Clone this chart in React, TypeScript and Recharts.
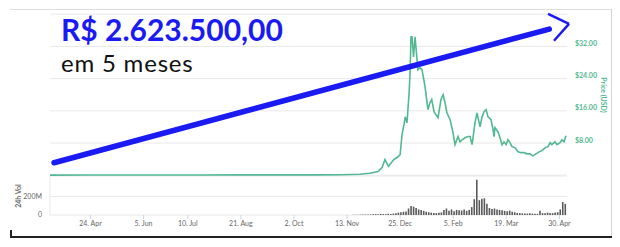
import { LineChart, Line, BarChart, Bar, XAxis, YAxis, CartesianGrid, ReferenceLine } from "recharts"

// x axis = days since 23 Mar 2017
const tickDays = [32, 74, 109, 151, 193, 235, 277, 319, 361, 403]
const tickLabels = ["24. Apr", "5. Jun", "10. Jul", "21. Aug", "2. Oct", "13. Nov", "25. Dec", "5. Feb", "19. Mar", "30. Apr"]

const priceDays = [
  0, 30, 60, 90, 120, 150, 180, 210, 230, 245, 253, 259.5, 262.7, 265, 267.7, 270, 272, 274.5, 277, 278.5,
  280, 281, 282.4, 284, 284.8, 285.6, 286.4, 287.6, 288.8, 290, 291, 292.7, 294.3, 296.7, 299, 300.6, 302,
  303.8, 305.4, 307, 309.3, 311, 312.5, 314, 316.5, 318.8, 320.4, 322.8, 324.4, 326, 328.3, 330.7, 332.3,
  333.9, 336.2, 337.8, 340.2, 341.8, 343.4, 345, 346.5, 348.9, 350.5, 351.3, 352, 354.4, 356, 357.6, 359.2,
  360.8, 362.3, 363.9, 365.5, 367.9, 370.3, 372.6, 375, 377.4, 379.7, 382, 384.5, 386.9, 389.2, 391.6, 394,
  395.6, 397, 399.5, 401, 403.5, 405, 406.6, 408.2,
]
const prices = [
  0.03, 0.04, 0.05, 0.06, 0.06, 0.07, 0.07, 0.08, 0.1, 0.25, 0.5, 0.9, 1.9, 3.9, 2.2, 3.1, 3.9, 4.4, 5.1, 10.1,
  12.5, 14.5, 13.0, 20, 25, 34.4, 34.4, 29.4, 34.4, 30, 26.2, 26.7, 26.2, 22, 16.3, 18, 18.8,
  15.8, 15, 14.3, 18.8, 20, 18, 15.5, 13.8, 10.6, 7.6, 9.6, 8.3, 8.8, 9.3, 9.6, 9.6,
  7.6, 13, 15.5, 12, 14.5, 15.8, 16.3, 14.5, 13.8, 11.3, 9.6, 11.8, 10.8, 9.3, 7.6, 8.3,
  7.6, 8.8, 8.1, 7.1, 6.8, 5.8, 5.6, 5.6, 5.3, 5.3, 4.8, 5.3, 5.8, 6.1, 6.8, 7.1,
  8.1, 7.6, 8.3, 7.6, 8.1, 8.8, 8.3, 9.8,
]

// 24h volume in millions, one bar every 2 days from day 240
const volumeStartDay = 240
const volumes = [
  3, 3, 4, 4, 5, 5, 6,
  6, 8, 10, 8, 12, 10, 9, 14, 12, 15, 20, 25,
  30, 35, 38,
  70, 97, 90,
  75, 60, 55, 45,
  35, 30, 25, 22, 20, 25, 28,
  55, 70,
  45, 60, 40, 55, 50, 48, 60, 45,
  55, 85, 170, 380, 160, 175, 180, 120,
  75, 65, 70, 60, 55,
  50, 45, 40, 48, 35, 30,
  22, 20, 18, 16, 15, 18, 15, 14, 12,
  45,
  20, 18, 25, 22, 20, 28, 30,
  60, 140, 120,
]

// hand-drawn overlay
const trendDays = [3.2, 395]
const trendValues = [3.1, 36.3]
const arrowDays = [394, 410.6, 398.7]
const arrowValues = [40.1, 37.6, 33.4]

const priceData = priceDays.map((day, i) => ({ day, price: prices[i] }))
const trendData = trendDays.map((day, i) => ({ day, trend: trendValues[i] }))
const volumeData = volumes.map((vol, i) => ({ day: volumeStartDay + i * 2, vol }))

const green = "#52b892"
const blue = "#1a1af2"
const font = "Lato, 'Open Sans', sans-serif"

const fmtPrice = (v: number) => (v === 0 ? "$0" : `$${v.toFixed(2)}`)

function PriceTick(props: any) {
  const { x, y, payload } = props
  if (payload.value === 40) return <g />
  return (
    <text x={x} y={y - 0.5} fill={green} fontSize={7} fontWeight={700} fontFamily={font}>
      {fmtPrice(payload.value)}
    </text>
  )
}

export default function App() {
  return (
    <div style={{ position: "absolute", left: 0, top: 0, width: 620, height: 247, background: "#fff", overflow: "hidden" }}>
      <div style={{ position: "absolute", left: 10, top: 9, width: 602, height: 1, background: "#dedede" }} />
      <div style={{ position: "absolute", left: 611, top: 9, width: 1, height: 228, background: "#d4d4d4" }} />
      <div style={{ position: "absolute", left: 10, top: 236, width: 602, height: 2, background: "#222" }} />
      <div style={{ position: "absolute", left: 10, top: 230, width: 1.5, height: 7, background: "#222" }} />

      <div style={{ position: "absolute", left: 0, top: 170 }}>
        <BarChart width={620} height={70} data={volumeData} margin={{ top: 6, right: 53, bottom: 0, left: 0 }}>
          <CartesianGrid vertical={false} stroke="#e8e8e8" />
          <XAxis
            type="number"
            dataKey="day"
            domain={[0, 409]}
            allowDataOverflow
            ticks={tickDays}
            interval={0}
            tickFormatter={(d: number) => tickLabels[tickDays.indexOf(d)] ?? ""}
            height={25}
            tickSize={4}
            tickMargin={2}
            axisLine={false}
            tickLine={{ stroke: "#ccd6eb" }}
            tick={{ fontSize: 7, fill: "#666", fontFamily: font }}
          />
          <YAxis
            domain={[0, 420]}
            ticks={[0, 200]}
            allowDataOverflow
            width={50}
            tickFormatter={(v: number) => (v === 0 ? "0" : `${v}M`)}
            axisLine={{ stroke: "#e6e9f5" }}
            tickLine={false}
            tickSize={6}
            tickMargin={2}
            tick={{ fontSize: 7, fill: "#666", fontFamily: font }}
          />
          <Bar dataKey="vol" fill="#5a5a5a" barSize={1.6} isAnimationActive={false} />
        </BarChart>
      </div>

      <div style={{ position: "absolute", left: 0, top: 0 }}>
        <LineChart width={620} height={180} margin={{ top: 14.2, right: 0, bottom: 4.8, left: 50 }}>
          <CartesianGrid vertical={false} stroke="#e8e8e8" />
          <XAxis type="number" dataKey="day" domain={[0, 409]} allowDataOverflow hide />
          <YAxis
            orientation="right"
            domain={[0, 40]}
            ticks={[0, 8, 16, 24, 32, 40]}
            width={53}
            axisLine={false}
            tickLine={false}
            tickSize={6}
            tickMargin={2}
            tick={<PriceTick />}
          />
          <Line data={priceData} dataKey="price" stroke={green} strokeWidth={1.6} dot={false} isAnimationActive={false} />
          <Line
            data={trendData}
            dataKey="trend"
            stroke={blue}
            strokeWidth={5.5}
            strokeLinecap="round"
            dot={false}
            isAnimationActive={false}
          />
          <ReferenceLine
            segment={[{ x: arrowDays[0], y: arrowValues[0] }, { x: arrowDays[1], y: arrowValues[1] }]}
            stroke={blue}
            strokeWidth={2.5}
            ifOverflow="visible"
          />
          <ReferenceLine
            segment={[{ x: arrowDays[1], y: arrowValues[1] }, { x: arrowDays[2], y: arrowValues[2] }]}
            stroke={blue}
            strokeWidth={2.5}
            ifOverflow="visible"
          />
        </LineChart>
      </div>

      <svg width={620} height={247} style={{ position: "absolute", left: 0, top: 0, pointerEvents: "none" }}>
        <text x={61} y={41.3} fontFamily={font} fontWeight={700} fontSize={30} fill={blue}>
          R$ 2.623.500,00
        </text>
        <text x={61} y={72} fontFamily={font} fontSize={24} letterSpacing={0.8} fill="#111">
          em 5 meses
        </text>
        <text transform="translate(20.5,196) rotate(-90)" textAnchor="middle" fontFamily={font} fontSize={7} fontWeight={700} fill="#666">
          24h Vol
        </text>
        <text transform="translate(600.5,95) rotate(90)" textAnchor="middle" fontFamily={font} fontSize={7} fontWeight={700} fill={green}>
          Price (USD)
        </text>
      </svg>
    </div>
  )
}
